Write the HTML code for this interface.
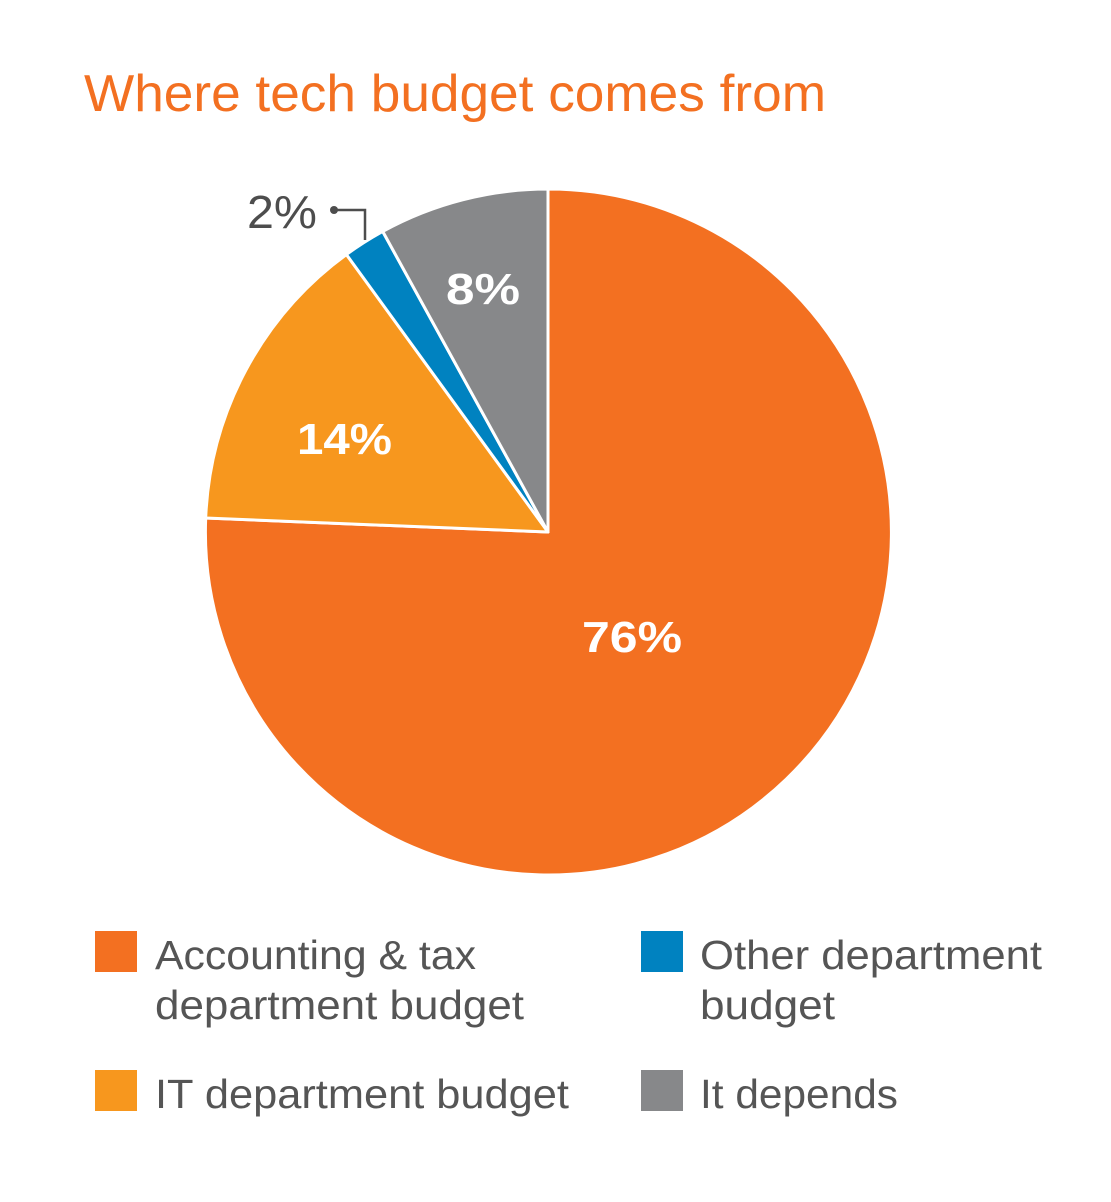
<!DOCTYPE html>
<html><head><meta charset="utf-8"><style>html,body{margin:0;padding:0;background:#fff}svg{display:block}</style></head>
<body>
<svg width="1111" height="1202" viewBox="0 0 1111 1202" xmlns="http://www.w3.org/2000/svg" font-family="Liberation Sans, sans-serif">
<text x="84" y="111" font-size="52" fill="#F37021" textLength="742" lengthAdjust="spacingAndGlyphs">Where tech budget comes from</text>
<g stroke="#fff" stroke-width="3" stroke-linejoin="round">
<path d="M548,532 L548,189 A343,343 0 1 1 205.7,518 Z" fill="#F37021"/>
<path d="M548,532 L205.7,518 A343,343 0 0 1 346.4,254.5 Z" fill="#F7971E"/>
<path d="M548,532 L346.4,254.5 A343,343 0 0 1 382.7,231.4 Z" fill="#0082C0"/>
<path d="M548,532 L382.7,231.4 A343,343 0 0 1 548,189 Z" fill="#87888A"/>
</g>
<g fill="#fff" font-weight="bold" font-size="44">
<text x="582" y="652" textLength="100" lengthAdjust="spacingAndGlyphs">76%</text>
<text x="297" y="454" textLength="95" lengthAdjust="spacingAndGlyphs">14%</text>
<text x="446" y="304" textLength="74" lengthAdjust="spacingAndGlyphs">8%</text>
</g>
<text x="247" y="228" font-size="46" fill="#4d4d4d" textLength="70" lengthAdjust="spacingAndGlyphs">2%</text>
<circle cx="334" cy="210" r="4" fill="#4d4d4d"/>
<path d="M334,210 H365 V240" stroke="#4d4d4d" stroke-width="2.5" fill="none"/>
<rect x="95" y="931" width="42" height="41" fill="#F37021"/>
<rect x="95" y="1070" width="42" height="41" fill="#F7971E"/>
<rect x="641" y="931" width="42" height="41" fill="#0082C0"/>
<rect x="641" y="1070" width="42" height="41" fill="#87888A"/>
<g font-size="41" fill="#555">
<text x="155" y="969" textLength="321" lengthAdjust="spacingAndGlyphs">Accounting &amp; tax</text>
<text x="155" y="1019" textLength="369" lengthAdjust="spacingAndGlyphs">department budget</text>
<text x="155" y="1108" textLength="414" lengthAdjust="spacingAndGlyphs">IT department budget</text>
<text x="700" y="969" textLength="342" lengthAdjust="spacingAndGlyphs">Other department</text>
<text x="700" y="1019" textLength="135" lengthAdjust="spacingAndGlyphs">budget</text>
<text x="700" y="1108" textLength="198" lengthAdjust="spacingAndGlyphs">It depends</text>
</g>
</svg>
</body></html>
